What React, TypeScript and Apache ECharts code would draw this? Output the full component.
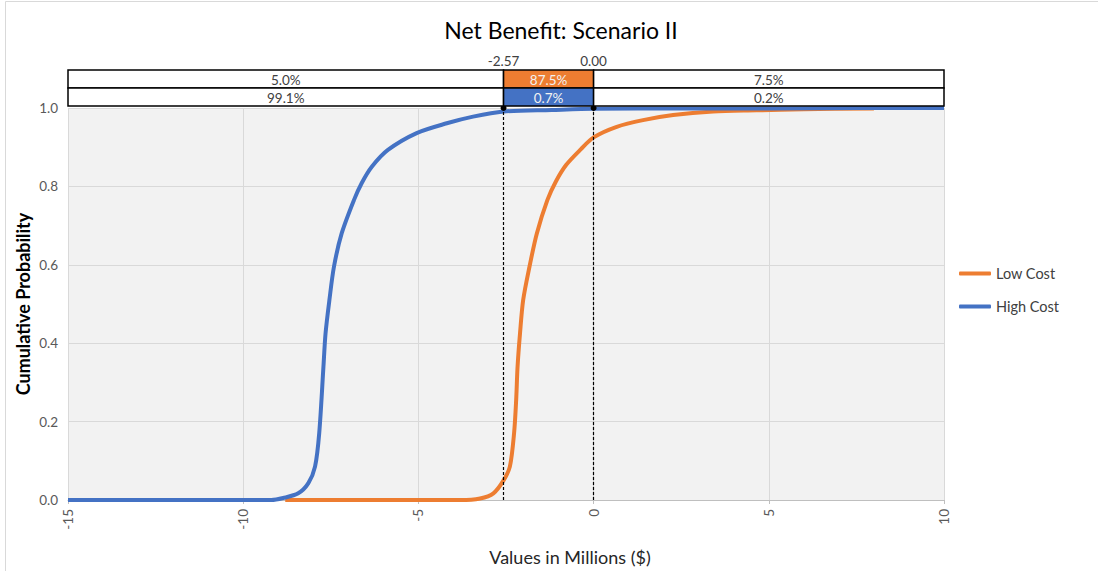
import React, { useEffect, useRef } from "react";
import * as echarts from "echarts";

const FONT = "Lato, 'Open Sans', sans-serif";

// High Cost cumulative curve
const highX = [-15, -9.2, -8.86, -8.43, -8.14, -7.95, -7.83, -7.71, -7.65, -7.54, -7.41, -7.19, -6.84, -6.62, -6.33, -5.87, -5.05, -4.19, -3.44, -2.57, -1.2, 0, 2.5, 5, 7.5, 10];
const highY = [0, 0, 0.005, 0.017, 0.043, 0.085, 0.171, 0.34, 0.425, 0.51, 0.595, 0.68, 0.765, 0.808, 0.85, 0.893, 0.936, 0.961, 0.978, 0.991, 0.995, 0.998, 0.999, 0.999, 1.0, 1.0];

// Low Cost cumulative curve
const lowX = [-8.8, -3.8, -3.24, -2.86, -2.57, -2.39, -2.27, -2.21, -2.17, -2.1, -2.01, -1.83, -1.62, -1.32, -1.08, -0.78, -0.36, 0, 0.66, 1.41, 2.27, 3.41, 4.65, 6.0, 8.0];
const lowY = [0, 0, 0.004, 0.017, 0.05, 0.085, 0.17, 0.255, 0.34, 0.425, 0.51, 0.595, 0.68, 0.765, 0.812, 0.855, 0.895, 0.925, 0.952, 0.969, 0.982, 0.991, 0.994, 0.997, 0.999];

// Threshold lines and band table
const thresholds = [-2.57, 0];
const thresholdLabels = ["-2.57", "0.00"];
const bandEdges = [-15, -2.57, 0, 10];
const lowBandLabels = ["5.0%", "87.5%", "7.5%"];
const highBandLabels = ["99.1%", "0.7%", "0.2%"];

const xTicks = { min: -15, max: 10, interval: 5 };
const yTicks = { min: 0, max: 1, interval: 0.2 };

const ORANGE = "#ED7D31";
const BLUE = "#4472C4";

export default function App() {
  const ref = useRef<HTMLDivElement>(null);

  useEffect(() => {
    if (!ref.current) return;
    const chart = echarts.init(ref.current, null, { renderer: "svg" });

    const bandRows = [lowBandLabels, highBandLabels];
    const bandFills = [ORANGE, BLUE];
    const bandData: number[][] = [];
    const bandMeta: { label: string; fill: string; text: string }[] = [];
    bandRows.forEach((labels, r) => {
      for (let i = 0; i < 3; i++) {
        bandData.push([bandEdges[i], bandEdges[i + 1], r]);
        const mid = i === 1;
        bandMeta.push({
          label: labels[i],
          fill: mid ? bandFills[r] : "#ffffff",
          text: mid ? "#f2f2f2" : "#404040",
        });
      }
    });

    const ROW_H = 18;

    const option: any = {
      animation: false,
      backgroundColor: "#ffffff",
      textStyle: { fontFamily: FONT },
      title: {
        text: "Net Benefit: Scenario II",
        left: 556,
        textAlign: "center",
        top: 13,
        textStyle: { fontFamily: FONT, fontSize: 23, fontWeight: "normal", color: "#000000" },
      },
      grid: {
        left: 68,
        right: 154,
        top: 108,
        bottom: 71,
        show: true,
        backgroundColor: "#f2f2f2",
        borderWidth: 0,
      },
      legend: {
        data: ["Low Cost", "High Cost"],
        orient: "vertical",
        left: 954,
        top: 261,
        itemWidth: 32,
        itemHeight: 4,
        itemGap: 18,
        icon: "roundRect",
        textStyle: { fontFamily: FONT, fontSize: 14.5, color: "#404040" },
      },
      xAxis: {
        type: "value",
        min: xTicks.min,
        max: xTicks.max,
        interval: xTicks.interval,
        axisLine: { show: true, lineStyle: { color: "#bfbfbf", width: 1 } },
        axisTick: { show: true, length: 4, lineStyle: { color: "#bfbfbf" } },
        axisLabel: { rotate: 90, fontSize: 13.5, color: "#595959", fontFamily: FONT, margin: 9 },
        splitLine: { show: true, lineStyle: { color: "#d9d9d9", width: 1 } },
      },
      yAxis: {
        type: "value",
        min: yTicks.min,
        max: yTicks.max,
        interval: yTicks.interval,
        name: "Cumulative Probability",
        nameLocation: "middle",
        nameGap: 36,
        nameMoveOverlap: false,
        nameTextStyle: { fontFamily: FONT, fontSize: 18, fontWeight: "bold", color: "#000000" },
        axisLine: { show: true, lineStyle: { color: "#bfbfbf", width: 1 } },
        axisTick: { show: false },
        axisLabel: {
          fontSize: 13.5,
          color: "#595959",
          fontFamily: FONT,
          margin: 10,
          formatter: (v: number) => v.toFixed(1),
        },
        splitLine: { show: true, lineStyle: { color: "#d9d9d9", width: 1 } },
      },
      series: [
        {
          name: "Low Cost",
          type: "line",
          data: lowX.map((x, i) => [x, lowY[i]]),
          showSymbol: false,
          smooth: 0.3,
          lineStyle: { color: ORANGE, width: 4 },
          itemStyle: { color: ORANGE },
          z: 3,
        },
        {
          name: "High Cost",
          type: "line",
          data: highX.map((x, i) => [x, highY[i]]),
          showSymbol: false,
          smooth: 0.3,
          lineStyle: { color: BLUE, width: 4 },
          itemStyle: { color: BLUE },
          z: 4,
        },
        {
          name: "thresholds",
          type: "line",
          data: [],
          z: 5,
          markLine: {
            silent: true,
            symbol: ["none", "circle"],
            symbolSize: 6,
            label: { show: false },
            lineStyle: { color: "#000000", type: [3, 2], width: 1.2 },
            itemStyle: { color: "#000000" },
            data: thresholds.map((t) => ({ xAxis: t })),
          },
        },
        {
          name: "bands",
          type: "custom",
          data: bandData,
          clip: false,
          silent: true,
          z: 6,
          encode: { x: [0, 1] },
          renderItem: (params: any, api: any) => {
            const x0 = api.value(0);
            const x1 = api.value(1);
            const r = api.value(2);
            const p0 = api.coord([x0, 1]);
            const p1 = api.coord([x1, 1]);
            const top = p0[1] - 2 - (2 - r) * ROW_H;
            const meta = bandMeta[params.dataIndex];
            return {
              type: "group",
              children: [
                {
                  type: "rect",
                  shape: { x: p0[0], y: top, width: p1[0] - p0[0], height: ROW_H },
                  style: { fill: meta.fill, stroke: "#000000", lineWidth: 1.5 },
                },
                {
                  type: "text",
                  style: {
                    x: (p0[0] + p1[0]) / 2,
                    y: top + ROW_H / 2 + 1,
                    text: meta.label,
                    textAlign: "center",
                    textVerticalAlign: "middle",
                    fill: meta.text,
                    fontSize: 13.5,
                    fontFamily: FONT,
                  },
                },
              ],
            };
          },
        },
        {
          name: "thresholdLabels",
          type: "custom",
          data: thresholds.map((t) => [t, 1]),
          clip: false,
          silent: true,
          z: 6,
          renderItem: (params: any, api: any) => {
            const p = api.coord([api.value(0), 1]);
            return {
              type: "text",
              style: {
                x: p[0],
                y: p[1] - 2 - 2 * ROW_H - 9,
                text: thresholdLabels[params.dataIndex],
                textAlign: "center",
                textVerticalAlign: "middle",
                fill: "#404040",
                fontSize: 13.5,
                fontFamily: FONT,
              },
            };
          },
        },
      ],
      graphic: [
        {
          type: "line",
          shape: { x1: 5.5, y1: 1.5, x2: 1098, y2: 1.5 },
          style: { stroke: "#d9d9d9", lineWidth: 1 },
          silent: true,
        },
        {
          type: "line",
          shape: { x1: 5.5, y1: 1.5, x2: 5.5, y2: 571 },
          style: { stroke: "#d9d9d9", lineWidth: 1 },
          silent: true,
        },
        {
          type: "text",
          x: 570,
          y: 557,
          silent: true,
          style: {
            text: "Values in Millions ($)",
            textAlign: "center",
            textVerticalAlign: "middle",
            fill: "#262626",
            fontSize: 18,
            fontFamily: FONT,
          },
        },
      ],
    };

    chart.setOption(option);
    return () => chart.dispose();
  }, []);

  return (
    <div
      ref={ref}
      style={{ position: "fixed", left: 0, top: 0, width: 1098, height: 571 }}
    />
  );
}
